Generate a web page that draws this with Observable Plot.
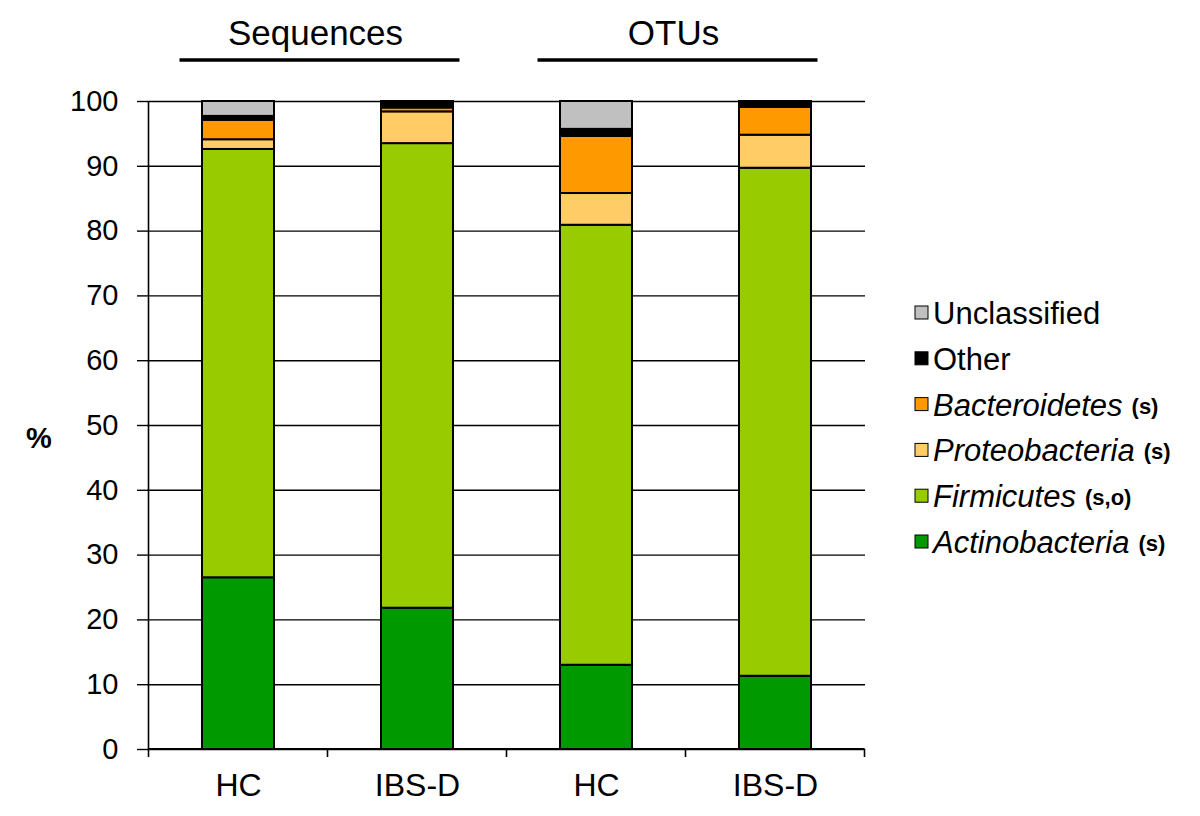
<!DOCTYPE html>
<html>
<head>
<meta charset="utf-8">
<script src="https://cdn.jsdelivr.net/npm/d3@7"></script>
<script src="https://cdn.jsdelivr.net/npm/@observablehq/plot@0.6"></script>
<style>
  body { margin: 0; background: #fff; }
  #chart { position: relative; width: 1200px; height: 816px; }
</style>
</head>
<body>
<div id="chart"></div>
<script>
// ---- data ----
const groups = ["Sequences", "Sequences", "OTUs", "OTUs"];
const samples = ["HC", "IBS-D", "HC", "IBS-D"];
const phyla = ["Actinobacteria", "Firmicutes", "Proteobacteria", "Bacteroidetes", "Other", "Unclassified"];
const phylaItalic = [true, true, true, true, false, false];
const phylaNote = ["(s)", "(s,o)", "(s)", "(s)", "", ""];
const colors = ["#009900", "#99cc00", "#ffcc66", "#ff9900", "#000000", "#c0c0c0"];
const actinobacteria = [26.5, 21.8, 13.0, 11.3];
const firmicutes = [66.1, 71.7, 67.9, 78.4];
const proteobacteria = [1.5, 4.9, 4.9, 5.1];
const bacteroidetes = [3.0, 0.6, 8.8, 4.3];
const other = [0.6, 0.8, 1.1, 0.6];
const unclassified = [2.3, 0.2, 4.3, 0.3];
const yTicks = [0, 10, 20, 30, 40, 50, 60, 70, 80, 90, 100];
const yLabel = "%";

// ---- build table ----
const barIds = samples.map((s, i) => groups[i] + "|" + s);
const seriesValues = [actinobacteria, firmicutes, proteobacteria, bacteroidetes, other, unclassified];
const data = phyla.flatMap((p, j) => barIds.map((id, i) => ({ bar: id, phylum: p, value: seriesValues[j][i] })));

const FONT = "'Liberation Sans', Arial, Helvetica, sans-serif";

const plot = Plot.plot({
  width: 1200,
  height: 816,
  marginLeft: 147,
  marginRight: 335,
  marginTop: 101,
  marginBottom: 67,
  style: { fontFamily: FONT, background: "#fff", color: "#000" },
  x: { domain: barIds, paddingInner: 0.6, paddingOuter: 0.3 },
  y: { domain: [0, 100] },
  color: { domain: phyla, range: colors },
  marks: [
    Plot.ruleY(yTicks, { stroke: "#000", strokeWidth: 1.4 }),
    Plot.barY(data, { x: "bar", y: "value", fill: "phylum", stroke: "#000", strokeWidth: 2, order: phyla }),
    Plot.axisY({ ticks: yTicks, tickSize: 10, tickPadding: 19, fontSize: 29, stroke: "#000", strokeWidth: 1.4, label: null, strokeOpacity: 1 }),
    Plot.axisX({ tickSize: 0, tickPadding: 24, fontSize: 32, tickFormat: d => d.split("|")[1], label: null })
  ]
});

document.getElementById("chart").appendChild(plot);

// ---- decorations derived from the Plot scales ----
const svg = d3.select(plot);
const xs = plot.scale("x");
const ys = plot.scale("y");
const step = xs.step, bw = xs.bandwidth;
const centers = barIds.map(id => xs.apply(id) + bw / 2);
const y0 = ys.apply(0), y100 = ys.apply(100);
const left = centers[0] - step / 2;

// y axis line
svg.append("line").attr("x1", left).attr("x2", left).attr("y1", y0).attr("y2", y100)
  .attr("stroke", "#000").attr("stroke-width", 1.6);
// x axis line + ticks at band boundaries
svg.append("line").attr("x1", left).attr("x2", left + step * barIds.length).attr("y1", y0).attr("y2", y0)
  .attr("stroke", "#000").attr("stroke-width", 2);
for (let k = 0; k <= barIds.length; k++) {
  const x = left + k * step;
  svg.append("line").attr("x1", x).attr("x2", x).attr("y1", y0).attr("y2", y0 + 8)
    .attr("stroke", "#000").attr("stroke-width", 1.6);
}

// group headers
const uniqueGroups = [...new Set(groups)];
uniqueGroups.forEach(g => {
  const idx = groups.map((d, i) => d === g ? i : -1).filter(i => i >= 0);
  const c = d3.mean(idx, i => centers[i]) - 8;
  svg.append("text").attr("x", c - 4).attr("y", 45).attr("text-anchor", "middle")
    .attr("font-family", FONT).attr("font-size", 35).attr("fill", "#000").text(g);
  svg.append("line").attr("x1", c - 140).attr("x2", c + 140).attr("y1", 60).attr("y2", 60)
    .attr("stroke", "#000").attr("stroke-width", 3.5);
});

// y label
svg.append("text").attr("x", 39).attr("y", ys.apply(48)).attr("text-anchor", "middle")
  .attr("dy", "0.36em").attr("font-family", FONT).attr("font-size", 29).attr("font-weight", "bold")
  .attr("fill", "#000").text(yLabel);

// legend
const order = phyla.map((p, i) => i).reverse();
order.forEach((j, r) => {
  const cy = 313 + r * 45.8;
  svg.append("rect").attr("x", 915).attr("y", cy - 7).attr("width", 13).attr("height", 13)
    .attr("fill", plot.scale("color").apply(phyla[j])).attr("stroke", "#000").attr("stroke-width", 1);
  const t = svg.append("text").attr("x", 933).attr("y", cy + 11).attr("text-anchor", "start")
    .attr("font-family", FONT).attr("font-size", 31).attr("fill", "#000");
  t.append("tspan").attr("font-style", phylaItalic[j] ? "italic" : "normal").text(phyla[j]);
  if (phylaNote[j]) {
    t.append("tspan").attr("dx", 9).attr("font-size", 22).attr("font-weight", "bold").attr("dy", -2).text(phylaNote[j]);
  }
});
</script>
</body>
</html>
